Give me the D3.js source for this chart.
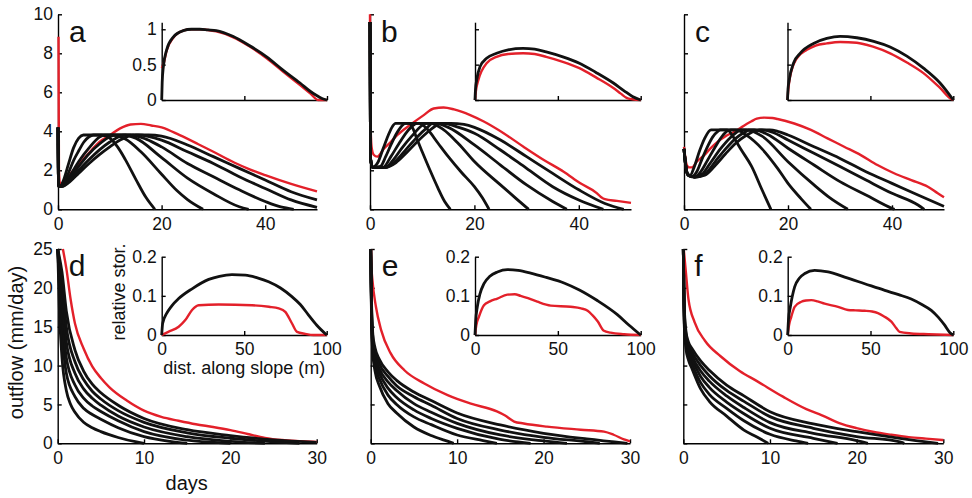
<!DOCTYPE html>
<html>
<head>
<meta charset="utf-8">
<script src="https://cdn.jsdelivr.net/npm/d3@7"></script>
<style>
  body { margin: 0; background: #fff; }
  svg { display: block; font-family: "Liberation Sans", Arial, Helvetica, sans-serif; }
  .axis path, .axis line { stroke: #000; stroke-width: 1.4; }
  .axis text { font-size: 17.5px; fill: #111; }
  .lbl { font-size: 20px; fill: #111; }
  .lbl.small { font-size: 18px; }
  .letter { font-size: 30px; fill: #111; }
</style>
</head>
<body>
<svg id="fig" width="972" height="498"></svg>
<script>
// ---- tick values ----
const topDayTicks = [0, 20, 40];
const topFlowTicks = [0, 2, 4, 6, 8, 10];
const topStorTicks = [0, 0.5, 1];
const slopeTicks = [0, 50, 100];
const bottomDayTicks = [0, 10, 20, 30];
const bottomFlowTicks = [0, 5, 10, 15, 20, 25];
const bottomStorTicks = [0, 0.1, 0.2];

// ---- panel a: outflow [day, mm/day] ----
const flowA_black = [
  [[0,4.2],[0.12,1.2],[0.5,1.2],[1,1.45],[2,2.3],[3,3.15],[4,3.65],[4.9,3.81],[8.5,3.81],[10,3.65],[11.5,3.2],[13,2.55],[15,1.55],[17,0.6],[18.7,0]],
  [[0,4.2],[0.12,1.18],[1,1.3],[2,1.85],[3,2.5],[4,3.0],[5,3.45],[6,3.72],[6.8,3.81],[10.5,3.81],[13,3.6],[16,2.95],[20,1.8],[23,0.95],[25,0.5],[28,0]],
  [[0,4.2],[0.12,1.17],[1,1.25],[2,1.6],[4,2.45],[6,3.15],[8,3.7],[9,3.81],[12.5,3.81],[15,3.65],[20,2.65],[25,1.6],[30,0.8],[35,0.13],[36.8,0]],
  [[0,4.2],[0.12,1.16],[1,1.22],[2,1.5],[4,2.2],[6,2.85],[8,3.35],[10,3.72],[11,3.81],[14,3.81],[17,3.6],[20,3.2],[25,2.35],[30,1.67],[35,1.0],[40,0.4],[43,0.12],[45.5,0]],
  [[0,4.2],[0.12,1.16],[1,1.2],[2,1.42],[4,2.0],[6,2.55],[8,3.05],[10,3.45],[12,3.75],[13,3.81],[15.5,3.81],[20,3.55],[25,2.95],[30,2.35],[35,1.67],[40,1.07],[45,0.48],[50,0.1]],
  [[0,4.2],[0.12,1.16],[1,1.18],[2,1.35],[4,1.85],[6,2.35],[8,2.8],[10,3.2],[12,3.55],[14,3.78],[15,3.81],[17.5,3.81],[20,3.75],[25,3.3],[30,2.7],[35,2.1],[40,1.5],[45,0.9],[50,0.48]]
];
const flowA_red = [[0.1,8.85],[0.18,2.0],[0.4,1.3],[1,1.35],[2,1.7],[4,2.3],[6,2.9],[8,3.45],[10,3.8],[12,4.15],[14,4.35],[16,4.38],[18,4.3],[20,4.2],[23.5,3.8],[27,3.35],[30,2.95],[34,2.4],[37,2.05],[40,1.75],[45,1.3],[50,0.92]];

// ---- panel b ----
const flowB_black = [
  [[0,9.6],[0.1,2.6],[0.5,2.15],[1.5,2.4],[2.5,3.1],[3.5,3.8],[4.3,4.25],[4.9,4.41],[7.5,4.41],[8.3,4.1],[9,3.6],[10,2.95],[11.5,2.0],[13,1.1],[14.3,0.4],[15.4,0]],
  [[0,9.6],[0.1,2.6],[0.5,2.15],[2,2.2],[3,2.7],[4,3.3],[5,3.85],[6,4.25],[6.8,4.41],[9.5,4.41],[11,4.1],[13,3.4],[15,2.7],[17.5,1.9],[20,1.16],[21.5,0.6],[22.8,0]],
  [[0,9.6],[0.1,2.6],[0.5,2.15],[2.5,2.15],[4,2.7],[5.5,3.35],[7,3.95],[8.5,4.35],[9,4.41],[11.5,4.41],[14,4.1],[17,3.35],[20,2.45],[25,1.25],[28,0.55],[30.4,0]],
  [[0,9.6],[0.1,2.6],[0.5,2.15],[3,2.15],[4.5,2.55],[6,3.1],[8,3.75],[10,4.3],[10.8,4.41],[12.5,4.41],[15,4.2],[20,3.3],[25,2.27],[30,1.25],[35,0.4],[37.7,0]],
  [[0,9.6],[0.1,2.6],[0.5,2.15],[3,2.15],[5,2.5],[7,3.1],[9,3.7],[11,4.2],[12,4.41],[14,4.41],[17,4.2],[20,3.9],[25,3.04],[30,2.1],[35,1.16],[40,0.48],[44.7,0]],
  [[0,9.6],[0.1,2.6],[0.5,2.15],[3,2.15],[5,2.4],[7,2.9],[9,3.45],[11,3.95],[13,4.35],[13.5,4.41],[15.5,4.41],[18,4.35],[20,4.2],[25,3.55],[30,2.7],[35,1.84],[40,1.0],[45,0.3],[48.6,0]]
];
const flowB_red = [[0,10],[0.06,5],[0.3,3.2],[0.7,2.8],[1.4,2.7],[2.7,3.12],[4,3.46],[5.2,3.8],[7.8,4.35],[10.3,4.83],[12.2,5.17],[14.1,5.22],[16.1,5.12],[19.2,4.83],[21.8,4.5],[25.6,3.9],[29.4,3.21],[33.3,2.53],[37.1,1.93],[40.3,1.33],[43.5,0.82],[44.3,0.62],[45,0.52],[47.3,0.43],[50,0.33]];

// ---- panel c ----
const flowC_black = [
  [[0,3.1],[0.3,2.3],[0.7,1.8],[1.2,1.75],[2,2.2],[3,3.0],[4,3.65],[5.2,4.07],[8.3,4.07],[9.5,3.7],[11,3.05],[13,2.2],[15,1.0],[16.7,0]],
  [[0,3.1],[0.3,2.3],[0.8,1.75],[1.5,1.67],[2.5,1.95],[3.5,2.6],[4.5,3.2],[5.5,3.7],[6.5,4.0],[7,4.07],[10,4.07],[12,3.8],[15,3.1],[18,2.1],[20,1.33],[22.5,0.55],[24.4,0]],
  [[0,3.1],[0.3,2.3],[0.8,1.75],[2,1.65],[3,1.85],[4.5,2.5],[6,3.2],[7.5,3.8],[8.5,4.05],[9,4.07],[12,4.07],[15,3.75],[20,2.44],[25,1.25],[28,0.6],[31.5,0]],
  [[0,3.1],[0.3,2.3],[0.8,1.75],[2,1.65],[3.5,1.8],[5,2.35],[7,3.1],[9,3.7],[10.5,4.02],[11,4.07],[13.5,4.07],[16,3.85],[20,3.13],[25,2.27],[30,1.42],[35,0.73],[40,0.05],[40.5,0]],
  [[0,3.1],[0.3,2.3],[0.8,1.75],[2,1.65],[4,1.8],[6,2.45],[8,3.1],[10,3.65],[12,4.0],[12.5,4.07],[15,4.07],[17,3.95],[20,3.55],[25,2.87],[30,2.19],[35,1.5],[40,0.82],[45,0.22],[46.2,0]],
  [[0,3.1],[0.3,2.3],[0.8,1.75],[2,1.65],[4,1.75],[6,2.25],[8,2.85],[10,3.4],[12,3.8],[14,4.05],[14.5,4.07],[16.5,4.07],[18,4.0],[20,3.81],[25,3.21],[30,2.61],[35,1.93],[40,1.33],[45,0.73],[50,0.15]]
];
const flowC_red = [[0,3.2],[0.5,2.3],[1,2.15],[1.5,2.15],[2.5,2.45],[3.9,2.78],[5,3.1],[6.5,3.47],[8,3.75],[9.7,3.98],[11,4.2],[12.9,4.5],[14,4.65],[15.4,4.7],[17,4.68],[18,4.63],[21.2,4.4],[24.4,4.07],[27.6,3.64],[30.8,3.21],[34,2.78],[37.2,2.27],[40.4,1.85],[43.7,1.5],[46.9,1.16],[48.8,0.82],[50,0.62]];

// ---- panel d ----
const flowD_black = [
  [[0,25],[0.2,17],[0.5,11],[1,6.8],[1.5,5],[2,4],[3,2.7],[4,2.0],[5,1.5],[7,0.75],[9,0.2],[10,0]],
  [[0,25],[0.3,18],[1,9],[2,6],[3,4.5],[4,3.7],[5,3.1],[7,2.0],[10,0.85],[13,0.25],[15,0]],
  [[0,25],[0.35,19],[1,11],[2,7.5],[3,5.8],[4,4.8],[5,4.1],[7,2.9],[10,1.5],[15,0.4],[19,0.05],[20,0]],
  [[0,25],[0.4,20],[1,13],[2,9],[3,7],[4,5.8],[5,4.9],[7,3.5],[10,2.1],[15,0.85],[20,0.25],[24,0]],
  [[0,25],[0.5,20.5],[1,15],[2,10.5],[3,8.2],[4,6.7],[5,5.7],[7,4.2],[10,2.7],[15,1.35],[20,0.65],[25,0.2],[28,0]],
  [[0,25],[0.5,22],[1,17],[2,12],[3,9.3],[4,7.6],[5,6.5],[7,4.9],[10,3.2],[15,1.75],[20,1.0],[25,0.45],[30,0.12]]
];
const flowD_red = [[0.6,25],[1,22.5],[1.5,18.5],[2,15.4],[3,12.2],[4,9.9],[5,8.4],[6,7.2],[8,5.5],[10,4.2],[12,3.4],[14,2.9],[16,2.45],[18,2.1],[20,1.7],[22,1.2],[24,0.7],[26,0.42],[28,0.28],[30,0.18]];

// ---- panel e ----
const flowE_black = [
  [[0,25],[0.1,15.5],[0.25,11.5],[0.5,9.3],[1,7.4],[2,5.1],[3,3.9],[5,2.1],[7,1.0],[8.5,0.4],[9.6,0]],
  [[0,25],[0.1,16],[0.25,12],[0.5,10],[1,8.3],[2,6.2],[3,5.0],[5,3.4],[7,2.4],[10,1.07],[13,0.35],[14.6,0]],
  [[0,25],[0.1,16.5],[0.25,12.5],[0.5,10.6],[1,9.0],[2,7.1],[3,5.9],[5,4.3],[7,3.2],[10,1.93],[15,0.5],[18.5,0]],
  [[0,25],[0.1,17],[0.25,13],[0.5,11.2],[1,9.6],[2,7.9],[3,6.8],[5,5.1],[7,4.0],[10,2.57],[15,1.07],[20,0.3],[22.7,0]],
  [[0,25],[0.1,17.5],[0.25,13.5],[0.5,11.8],[1,10.2],[2,8.6],[3,7.4],[5,6.0],[7,4.9],[10,3.2],[15,1.71],[20,0.77],[25,0.2],[26.5,0]],
  [[0,25],[0.1,18],[0.25,14],[0.5,12.3],[1,10.8],[2,9.2],[3,8.1],[5,6.6],[7,5.5],[10,3.9],[15,2.36],[20,1.29],[25,0.56],[29.7,0]]
];
const flowE_red = [[0.05,25],[0.1,22.5],[0.2,21],[0.6,17.6],[1.2,14.6],[2.3,11.6],[3.9,9.4],[6.2,7.7],[8.9,6.2],[11.6,5.1],[14.6,4.1],[15.5,3.6],[16.6,2.8],[17.7,2.55],[20.4,2.14],[24.3,1.75],[27,1.5],[28.1,1.1],[29.3,0.5],[30,0.25]];

// ---- panel f ----
const flowF_black = [
  [[0,25],[0.1,15.5],[0.3,12.2],[0.6,10.7],[1,9.6],[2,7.0],[3,5.4],[5,3.5],[7,1.7],[8.5,0.8],[9.8,0]],
  [[0,25],[0.1,16],[0.3,12.8],[0.6,11.3],[1,10.2],[2,7.8],[3,6.3],[5,4.5],[7,2.9],[10,1.16],[13,0.3],[14.4,0]],
  [[0,25],[0.1,16.5],[0.3,13.2],[0.6,11.8],[1,10.8],[2,8.6],[3,7.2],[5,5.3],[7,3.8],[10,1.93],[15,0.64],[17.8,0]],
  [[0,25],[0.1,17],[0.3,13.6],[0.6,12.2],[1,11.2],[2,9.3],[3,8.0],[5,6.1],[7,4.6],[10,2.66],[15,1.29],[20,0.34],[21.3,0]],
  [[0,25],[0.1,17.5],[0.3,14],[0.6,12.6],[1,11.7],[2,10],[3,8.7],[5,6.8],[7,5.4],[10,3.43],[15,1.93],[20,0.86],[25,0.17],[25.5,0]],
  [[0,25],[0.1,18],[0.3,14.5],[0.6,13],[1,12.2],[2,10.6],[3,9.4],[5,7.5],[7,6.1],[10,4.07],[15,2.5],[20,1.5],[25,0.64],[29.4,0]]
];
const flowF_red = [[0.05,25],[0.3,22],[0.6,18.5],[1.3,15.6],[2.5,13.2],[4.3,11.2],[6.5,9.3],[8.5,8.0],[11.5,6.0],[14.2,4.4],[16,3.6],[18,2.6],[20,1.95],[22,1.45],[24,1.1],[26,0.8],[28,0.6],[30,0.42]];

// ---- insets: relative storage [distance m, value] ----
const storA_black = [[0,0],[0.3,0.25],[1,0.47],[3,0.71],[7,0.89],[13,0.98],[18,1.0],[23,1.0],[28,0.99],[33,0.98],[43,0.9],[53,0.77],[63.5,0.61],[73,0.43],[83.7,0.24],[90,0.12],[94,0.06],[97,0.02],[100,0]];
const storA_red = [[0,0.45],[1,0.5],[3,0.7],[7,0.88],[13,0.98],[18,1.0],[23,1.0],[28,0.99],[33,0.97],[43,0.89],[53,0.76],[63.5,0.59],[73,0.41],[83.7,0.21],[90,0.09],[94.7,0],[100,0]];
const storB_black = [[0,0],[0.3,0.15],[1,0.28],[3,0.47],[7,0.59],[13,0.66],[20,0.71],[29,0.73],[36,0.72],[43,0.68],[53,0.61],[63,0.52],[73,0.39],[83.5,0.24],[90,0.13],[95,0.05],[100,0]];
const storB_red = [[0,0],[0.5,0.12],[2,0.28],[7,0.52],[13,0.61],[20,0.65],[29,0.66],[36,0.65],[43,0.61],[53,0.54],[63,0.45],[73,0.32],[83.5,0.17],[88,0.09],[91.5,0.03],[95,0.01],[100,0]];
const storC_black = [[0,0],[0.3,0.15],[1,0.28],[3.6,0.52],[7.6,0.66],[15.7,0.8],[23.7,0.87],[31.7,0.9],[41.8,0.88],[52,0.83],[61.9,0.75],[72,0.62],[82,0.45],[92,0.24],[100,0]];
const storC_red = [[0,0],[0.5,0.15],[1.6,0.33],[5.6,0.59],[11.7,0.71],[17,0.77],[23.7,0.8],[31.7,0.82],[41.8,0.81],[52,0.75],[61.9,0.66],[72,0.53],[82,0.38],[92,0.17],[99,0.01],[100,0]];
const storD_black = [[0,0],[0.6,0.03],[3,0.055],[6,0.074],[10.3,0.093],[18.4,0.118],[28.5,0.142],[35,0.15],[42.6,0.154],[50.7,0.153],[58,0.146],[64.8,0.136],[72,0.12],[78.9,0.098],[84,0.078],[89,0.051],[94,0.025],[100,0]];
const storD_red = [[0,0],[4,0.008],[10.3,0.021],[14.3,0.038],[18.4,0.064],[22.4,0.076],[34.5,0.078],[54.7,0.076],[65,0.072],[70.9,0.068],[74.9,0.059],[78.9,0.03],[82,0.008],[87,0.003],[92,0],[100,0]];
const storE_black = [[0,0],[0.4,0.035],[1.4,0.072],[3,0.105],[5.4,0.131],[9,0.15],[13.5,0.161],[19.5,0.167],[26,0.165],[33.6,0.158],[43,0.147],[53.7,0.133],[63,0.115],[73.8,0.088],[85.9,0.052],[93,0.025],[100,0]];
const storE_red = [[0,0],[0.8,0.025],[2.4,0.047],[5.4,0.076],[9,0.086],[13.5,0.093],[19.5,0.103],[24,0.104],[27.5,0.1],[32,0.094],[37.6,0.085],[45.7,0.075],[57.7,0.072],[64,0.068],[68,0.062],[71,0.05],[74,0.035],[77.8,0.011],[81.8,0.006],[90,0.002],[100,0]];
const storF_black = [[0,0],[0.5,0.04],[1.6,0.072],[4.2,0.123],[7,0.145],[10.3,0.157],[16.3,0.165],[24.4,0.161],[34.4,0.148],[46.5,0.131],[58.6,0.114],[67,0.103],[74.6,0.092],[81,0.078],[86.7,0.063],[91,0.045],[94.8,0.025],[98,0.006],[100,0]];
const storF_red = [[0,0],[0.8,0.025],[2.2,0.047],[4.2,0.072],[8.2,0.085],[11,0.088],[14.3,0.089],[18,0.086],[22.3,0.08],[30.4,0.072],[36.4,0.064],[41,0.063],[46.5,0.062],[51,0.06],[54.5,0.056],[58,0.048],[62.6,0.034],[65.5,0.018],[67.6,0.008],[74.6,0.004],[85,0.002],[100,0]];

const red = '#e3202a';
const svg = d3.select('#fig');

// draw one set of axes with its black and red curves
function drawPanel(p) {
  const x = d3.scaleLinear().domain(p.xDomain).range(p.xRange);
  const y = d3.scaleLinear().domain(p.yDomain).range(p.yRange);
  const g = svg.append('g');

  // axes first, the curves sit on top of them as in the original
  const fmt = p.showX ? (d => String(d)) : () => '';
  g.append('g')
    .attr('class', 'axis')
    .attr('transform', `translate(0,${p.yRange[0]})`)
    .call(d3.axisBottom(x).tickValues(p.xTicks).tickFormat(fmt)
      .tickSizeInner(-4).tickSizeOuter(0).tickPadding(8));

  const fmtY = p.showY ? (d => String(d)) : () => '';
  g.append('g')
    .attr('class', 'axis')
    .attr('transform', `translate(${p.xRange[0]},0)`)
    .call(d3.axisLeft(y).tickValues(p.yTicks).tickFormat(fmtY)
      .tickSizeInner(-4).tickSizeOuter(0).tickPadding(5));

  const line = d3.line()
    .x(d => x(d[0]))
    .y(d => y(d[1]))
    .curve(d3.curveMonotoneX);

  g.append('path')
    .datum(p.red)
    .attr('fill', 'none')
    .attr('stroke', red)
    .attr('stroke-width', p.lw)
    .attr('stroke-linejoin', 'round')
    .attr('d', line);

  g.selectAll('path.black')
    .data(p.black)
    .enter().append('path')
    .attr('class', 'black')
    .attr('fill', 'none')
    .attr('stroke', '#111')
    .attr('stroke-width', p.lw + 0.4)
    .attr('stroke-linejoin', 'round')
    .attr('d', line);

  if (p.letter) {
    g.append('text')
      .attr('class', 'letter')
      .attr('x', p.xRange[0] + 11)
      .attr('y', p.letterY)
      .text(p.letter);
  }
}

const topMainX = [[58, 317], [370, 631], [684, 944]];
const topInsetX = [[161.7, 327], [475, 640.7], [787.5, 953.3]];
const botMainX = [[57.7, 316.7], [370.7, 630], [683.3, 943.3]];
const botInsetX = [[161.7, 326.7], [475, 640.7], [787.7, 953.3]];

const topFlows = [[flowA_black, flowA_red], [flowB_black, flowB_red], [flowC_black, flowC_red]];
const botFlows = [[flowD_black, flowD_red], [flowE_black, flowE_red], [flowF_black, flowF_red]];
const topStor = [[storA_black, storA_red], [storB_black, storB_red], [storC_black, storC_red]];
const botStor = [[storD_black, storD_red], [storE_black, storE_red], [storF_black, storF_red]];

for (let i = 0; i < 3; i++) {
  drawPanel({
    xDomain: [0, 50], xRange: topMainX[i], yDomain: [0, 10], yRange: [209.3, 14.3],
    xTicks: topDayTicks, yTicks: topFlowTicks, showX: true, showY: i === 0,
    black: topFlows[i][0], red: topFlows[i][1], lw: 2.4,
    letter: 'abc'[i], letterY: 42
  });
  drawPanel({
    xDomain: [0, 100], xRange: topInsetX[i], yDomain: [0, 1.1], yRange: [100, 22.2],
    xTicks: slopeTicks, yTicks: topStorTicks, showX: false, showY: i === 0,
    black: [topStor[i][0]], red: topStor[i][1], lw: 2.4
  });
  drawPanel({
    xDomain: [0, 30], xRange: botMainX[i], yDomain: [0, 25], yRange: [443.3, 249],
    xTicks: bottomDayTicks, yTicks: bottomFlowTicks, showX: true, showY: i === 0,
    black: botFlows[i][0], red: botFlows[i][1], lw: 2.4,
    letter: 'def'[i], letterY: 276
  });
  drawPanel({
    xDomain: [0, 100], xRange: botInsetX[i], yDomain: [0, 0.2], yRange: [335, 256.7],
    xTicks: slopeTicks, yTicks: bottomStorTicks, showX: true, showY: true,
    black: [botStor[i][0]], red: botStor[i][1], lw: 2.4
  });
}

// axis titles
svg.append('text').attr('class', 'lbl')
  .attr('transform', 'translate(23,342.5) rotate(-90)')
  .attr('text-anchor', 'middle').text('outflow (mm/day)');
svg.append('text').attr('class', 'lbl')
  .attr('x', 186.7).attr('y', 490)
  .attr('text-anchor', 'middle').text('days');
svg.append('text').attr('class', 'lbl small')
  .attr('transform', 'translate(125,292) rotate(-90)')
  .attr('text-anchor', 'middle').text('relative stor.');
svg.append('text').attr('class', 'lbl small')
  .attr('x', 244.2).attr('y', 374)
  .attr('text-anchor', 'middle').text('dist. along slope (m)');
</script>
</body>
</html>
